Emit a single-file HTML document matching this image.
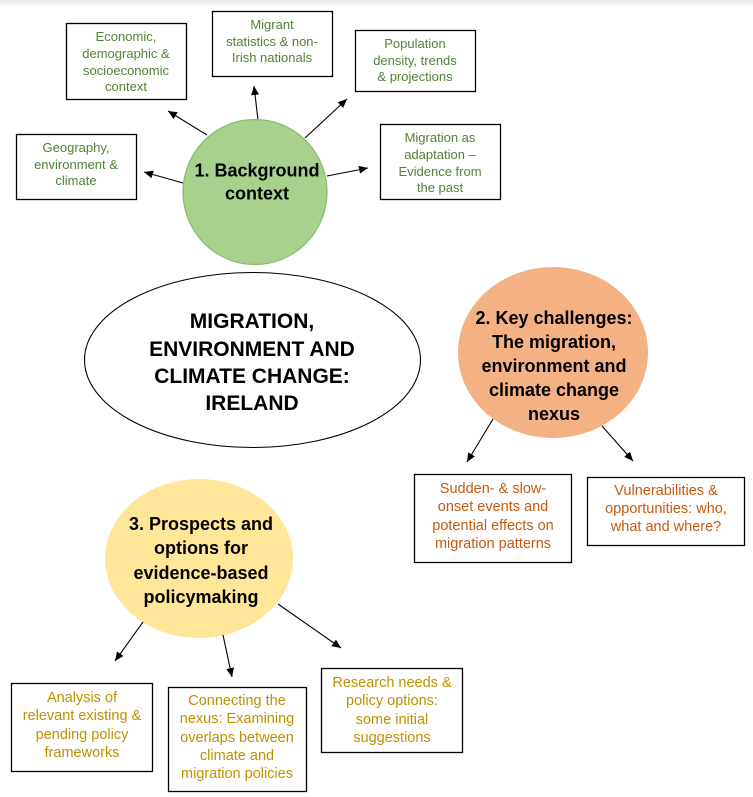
<!DOCTYPE html>
<html><head><meta charset="utf-8"><style>
html,body{margin:0;padding:0;background:#fff;}
svg{display:block;}
text{font-family:"Liberation Sans",Arial,sans-serif;}
.g{fill:#538135;font-size:13px;}
.o{fill:#c55a11;font-size:14.5px;}
.y{fill:#bf9000;font-size:14.5px;}
.b{fill:#000;font-weight:bold;font-size:18px;}
.c{fill:#000;font-weight:bold;font-size:21px;}
</style></head><body>
<svg width="753" height="797" viewBox="0 0 753 797" xmlns="http://www.w3.org/2000/svg">
<defs>
<linearGradient id="sh" x1="0" y1="0" x2="0" y2="1">
<stop offset="0" stop-color="#e6e6e6"/><stop offset="1" stop-color="#ffffff"/>
</linearGradient>
<marker id="ah" markerUnits="userSpaceOnUse" markerWidth="12" markerHeight="10" refX="9" refY="4" orient="auto">
<path d="M0,0 L9,4 L0,8 z" fill="#000"/>
</marker>
</defs>
<rect x="0" y="0" width="753" height="7" fill="url(#sh)"/>

<!-- Green cluster -->
<g stroke="#000" stroke-width="1.3" fill="none">
<rect x="66.5" y="23.5" width="120" height="76"/>
<rect x="212.5" y="11.5" width="120" height="65"/>
<rect x="355.5" y="30.5" width="120" height="61"/>
<rect x="380.5" y="124.5" width="120" height="75"/>
<rect x="16.5" y="134.5" width="120" height="65"/>
</g>
<g stroke="#000" stroke-width="1.1" marker-end="url(#ah)">
<line x1="207" y1="135" x2="168" y2="111"/>
<line x1="258" y1="120" x2="254" y2="86"/>
<line x1="305" y1="138" x2="347" y2="99"/>
<line x1="327" y1="176" x2="368" y2="168"/>
<line x1="183" y1="183" x2="144" y2="172"/>
</g>
<ellipse cx="255" cy="192" rx="72" ry="72.5" fill="#a9d18e" stroke="#8cbb6a" stroke-width="1.2"/>
<text class="b" text-anchor="middle"><tspan x="257" y="176.5">1. Background</tspan><tspan x="257" y="199.5">context</tspan></text>

<g class="g" text-anchor="middle">
<text x="126" y="41">Economic,</text>
<text x="126" y="58">demographic &amp;</text>
<text x="126" y="75">socioeconomic</text>
<text x="126" y="91">context</text>
<text x="272" y="29">Migrant</text>
<text x="272" y="46">statistics &amp; non-</text>
<text x="272" y="62">Irish nationals</text>
<text x="415" y="48">Population</text>
<text x="415" y="65">density, trends</text>
<text x="415" y="81">&amp; projections</text>
<text x="440" y="142">Migration as</text>
<text x="440" y="159">adaptation –</text>
<text x="440" y="176">Evidence from</text>
<text x="440" y="192">the past</text>
<text x="76" y="152">Geography,</text>
<text x="76" y="169">environment &amp;</text>
<text x="76" y="185">climate</text>
</g>

<!-- Central ellipse -->
<ellipse cx="252.5" cy="360" rx="168" ry="87.5" fill="#fff" stroke="#000" stroke-width="1.1"/>
<text class="c" text-anchor="middle"><tspan x="252" y="328">MIGRATION,</tspan><tspan x="252" y="356">ENVIRONMENT AND</tspan><tspan x="252" y="383">CLIMATE CHANGE:</tspan><tspan x="252" y="410">IRELAND</tspan></text>

<!-- Orange cluster -->
<ellipse cx="553" cy="352.5" rx="95" ry="85.5" fill="#f4b183"/>
<text class="b" text-anchor="middle"><tspan x="554" y="324">2. Key challenges:</tspan><tspan x="554" y="348">The migration,</tspan><tspan x="554" y="372">environment and</tspan><tspan x="554" y="396">climate change</tspan><tspan x="554" y="420">nexus</tspan></text>
<g stroke="#000" stroke-width="1.1" marker-end="url(#ah)">
<line x1="493" y1="419" x2="467" y2="462"/>
<line x1="602" y1="426" x2="633" y2="461"/>
</g>
<g stroke="#000" stroke-width="1.3" fill="none">
<rect x="414.5" y="474.5" width="157" height="88"/>
<rect x="587.5" y="477.5" width="157" height="68"/>
</g>
<g class="o" text-anchor="middle">
<text x="493" y="493">Sudden- &amp; slow-</text>
<text x="493" y="511">onset events and</text>
<text x="493" y="530">potential effects on</text>
<text x="493" y="548">migration patterns</text>
<text x="666" y="495">Vulnerabilities &amp;</text>
<text x="666" y="513">opportunities: who,</text>
<text x="666" y="531">what and where?</text>
</g>

<!-- Yellow cluster -->
<ellipse cx="199" cy="558.5" rx="94" ry="79.5" fill="#ffe699"/>
<text class="b" text-anchor="middle"><tspan x="201" y="530">3. Prospects and</tspan><tspan x="201" y="554">options for</tspan><tspan x="201" y="579">evidence-based</tspan><tspan x="201" y="603">policymaking</tspan></text>
<g stroke="#000" stroke-width="1.1" marker-end="url(#ah)">
<line x1="143" y1="622" x2="115" y2="661"/>
<line x1="223" y1="635" x2="232" y2="677"/>
<line x1="278" y1="604" x2="341" y2="648"/>
</g>
<g stroke="#000" stroke-width="1.3" fill="none">
<rect x="11.5" y="683.5" width="141" height="88"/>
<rect x="168.5" y="687.5" width="138" height="104"/>
<rect x="321.5" y="668.5" width="141" height="84"/>
</g>
<g class="y" text-anchor="middle">
<text x="82" y="702">Analysis of</text>
<text x="82" y="720">relevant existing &amp;</text>
<text x="82" y="739">pending policy</text>
<text x="82" y="757">frameworks</text>
<text x="237" y="705">Connecting the</text>
<text x="237" y="723">nexus: Examining</text>
<text x="237" y="742">overlaps between</text>
<text x="237" y="760">climate and</text>
<text x="237" y="778">migration policies</text>
<text x="392" y="687">Research needs &amp;</text>
<text x="392" y="705">policy options:</text>
<text x="392" y="724">some initial</text>
<text x="392" y="742">suggestions</text>
</g>
</svg>
</body></html>
